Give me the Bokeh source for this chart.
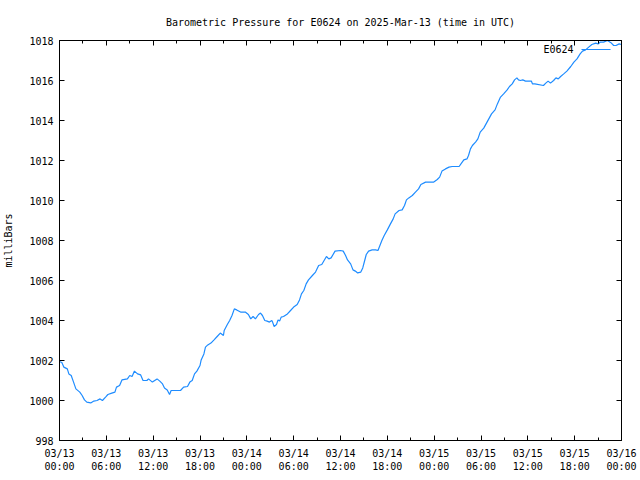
from bokeh.plotting import figure
from bokeh.models import Range1d, FixedTicker, LinearAxis, Label
from bokeh.embed import file_html
from bokeh.resources import INLINE

# hours since 2025-03-13 00:00 UTC
hours = [0.0, 0.3, 0.55, 1.0, 1.2, 1.5, 1.8, 2.1, 2.6, 2.9, 3.2, 3.5, 4.0, 4.4, 4.8, 5.2, 5.5, 5.9,
         6.2, 6.7, 7.1, 7.3, 7.7, 8.0, 8.7, 9.0, 9.3, 9.6, 10.0, 10.4, 10.7, 11.2, 11.4, 11.9,
         12.2, 12.5, 12.85, 13.2, 13.45, 13.8, 14.1, 14.3, 15.5, 15.9, 16.4, 16.7, 17.0, 17.3,
         17.6, 18.0, 18.15, 18.5, 18.7, 19.0, 19.4, 19.8, 20.2, 20.6, 21.0, 21.1, 21.5, 21.8,
         22.1, 22.4, 22.7, 23.2, 23.8, 24.2, 24.5, 24.8, 25.1, 25.5, 25.75, 26.0, 26.3, 26.6,
         26.9, 27.2, 27.3, 27.5, 27.8, 28.0, 28.2, 28.4, 28.7, 29.2, 29.6, 30.0, 30.45, 30.75,
         31.0, 31.3, 31.6, 31.9, 32.4, 32.8, 33.2, 33.6, 33.9, 34.2, 34.5, 34.8, 35.3, 36.0,
         36.35, 36.65, 36.9, 37.3, 37.6, 37.9, 38.2, 38.6, 38.85, 39.1, 39.3, 39.6, 40.05, 40.5,
         40.8, 41.0, 41.3, 41.6, 42.0, 42.4, 42.75, 43.0, 43.5, 43.9, 44.2, 44.45, 44.75, 45.2,
         45.6, 46.0, 46.3, 46.9, 47.95, 48.4, 48.7, 49.0, 49.45, 49.9, 50.3, 51.2, 51.5, 51.8,
         52.2, 52.4, 52.65, 52.9, 53.3, 53.6, 53.9, 54.35, 54.65, 55.0, 55.35, 55.8, 56.1, 56.5,
         56.9, 57.35, 57.65, 58.0, 58.3, 58.6, 58.8, 59.05, 59.35, 59.7, 60.45, 60.6, 60.9, 62.0,
         62.3, 62.6, 62.9, 63.3, 63.6, 63.9, 64.2, 64.6, 65.0, 65.5, 65.9, 66.3, 66.7, 67.0,
         67.4, 67.8, 68.2, 68.7, 69.0, 69.3, 69.7, 70.2, 70.5, 70.7, 71.0, 71.3, 71.7, 72.0]
pressure = [1001.95, 1001.9, 1001.67, 1001.58, 1001.33, 1001.25, 1000.92, 1000.58, 1000.42, 1000.25,
            1000.03, 999.92, 999.88, 999.97, 1000.0, 1000.08, 1000.0, 1000.17, 1000.3, 1000.37,
            1000.42, 1000.67, 1000.75, 1001.03, 1001.08, 1001.25, 1001.2, 1001.47, 1001.33, 1001.28,
            1001.0, 1001.0, 1001.08, 1000.92, 1001.0, 1001.08, 1000.97, 1000.83, 1000.63, 1000.53,
            1000.3, 1000.5, 1000.5, 1000.67, 1000.7, 1000.92, 1001.0, 1001.33, 1001.47, 1001.75,
            1002.03, 1002.33, 1002.67, 1002.78, 1002.87, 1003.03, 1003.2, 1003.37, 1003.25, 1003.5,
            1003.8, 1004.0, 1004.25, 1004.58, 1004.53, 1004.42, 1004.42, 1004.3, 1004.08, 1004.2,
            1004.08, 1004.3, 1004.37, 1004.25, 1004.0, 1003.97, 1003.92, 1004.0, 1003.92, 1003.7,
            1003.8, 1004.03, 1003.97, 1004.17, 1004.2, 1004.33, 1004.5, 1004.67, 1004.8, 1005.03,
            1005.33, 1005.5, 1005.83, 1006.03, 1006.25, 1006.42, 1006.75, 1006.8, 1007.0, 1007.2,
            1007.08, 1007.13, 1007.47, 1007.5, 1007.47, 1007.25, 1007.03, 1006.83, 1006.53, 1006.47,
            1006.38, 1006.42, 1006.63, 1007.0, 1007.3, 1007.47, 1007.53, 1007.53, 1007.5, 1007.7,
            1008.0, 1008.25, 1008.53, 1008.83, 1009.08, 1009.33, 1009.5, 1009.53, 1009.75, 1010.03,
            1010.13, 1010.25, 1010.42, 1010.58, 1010.8, 1010.92, 1010.92, 1011.05, 1011.17, 1011.47,
            1011.58, 1011.67, 1011.7, 1011.7, 1011.87, 1012.03, 1012.08, 1012.25, 1012.58, 1012.75,
            1012.92, 1013.08, 1013.42, 1013.62, 1013.83, 1014.08, 1014.33, 1014.53, 1014.83, 1015.17,
            1015.33, 1015.53, 1015.7, 1015.83, 1016.03, 1016.13, 1016.03, 1016.0, 1016.03, 1015.97,
            1015.97, 1015.83, 1015.83, 1015.75, 1015.87, 1015.97, 1015.87, 1016.0, 1016.13, 1016.08,
            1016.2, 1016.33, 1016.47, 1016.7, 1016.92, 1017.08, 1017.33, 1017.47, 1017.53, 1017.67,
            1017.8, 1017.87, 1017.83, 1017.92, 1017.92, 1018.0, 1017.92, 1017.87, 1017.75, 1017.75,
            1017.83, 1017.8]

x_ticks = list(range(0, 73, 6))
x_minor_ticks = list(range(3, 72, 6))
x_tick_labels = ["03/13\n00:00", "03/13\n06:00", "03/13\n12:00", "03/13\n18:00",
                 "03/14\n00:00", "03/14\n06:00", "03/14\n12:00", "03/14\n18:00",
                 "03/15\n00:00", "03/15\n06:00", "03/15\n12:00", "03/15\n18:00",
                 "03/16\n00:00"]
y_ticks = list(range(998, 1019, 2))
station = "E0624"
title_text = "Barometric Pressure for E0624 on 2025-Mar-13 (time in UTC)"
y_label = "milliBars"

FONT = "DejaVu Sans Mono"
FS = "10px"
COLOR = "#1e8cff"

p = figure(width=640, height=480, output_backend="svg", toolbar_location=None,
           x_range=Range1d(0, 72), y_range=Range1d(998, 1018),
           min_border_left=59, min_border_right=19, min_border_top=40, min_border_bottom=40)
p.title.text = title_text
p.title.text_font = FONT
p.title.text_font_size = FS
p.title.text_font_style = "normal"
p.title.text_color = "black"
p.title.align = "center"
p.title.standoff = 26
p.xgrid.visible = False
p.ygrid.visible = False
p.outline_line_color = "black"
p.outline_line_alpha = 1.0
p.background_fill_color = "white"
p.border_fill_color = "white"

def style_axis(ax, ticks, minor, labels):
    ax.ticker = FixedTicker(ticks=ticks, minor_ticks=minor)
    ax.major_tick_in = 5
    ax.major_tick_out = 0
    ax.minor_tick_in = 3
    ax.minor_tick_out = 0
    ax.axis_line_color = "black"
    ax.major_tick_line_color = "black"
    ax.minor_tick_line_color = "black"
    ax.major_label_text_font = FONT
    ax.major_label_text_font_size = FS
    ax.major_label_text_color = "black"
    ax.major_label_overrides = labels

xlab = {t: l for t, l in zip(x_ticks, x_tick_labels)}
style_axis(p.xaxis[0], x_ticks, x_minor_ticks, xlab)
p.xaxis[0].major_label_standoff = 7
style_axis(p.yaxis[0], y_ticks, [], {t: str(t) for t in y_ticks})
p.yaxis[0].major_label_standoff = 6
p.yaxis[0].axis_label = y_label
p.yaxis[0].axis_label_text_font = FONT
p.yaxis[0].axis_label_text_font_size = FS
p.yaxis[0].axis_label_text_font_style = "normal"
p.yaxis[0].axis_label_text_color = "black"
p.yaxis[0].axis_label_standoff = 12

top = LinearAxis()
style_axis(top, x_ticks, x_minor_ticks, {t: "" for t in x_ticks})
top.major_label_standoff = 0
p.add_layout(top, "above")
right = LinearAxis()
style_axis(right, y_ticks, [], {t: "" for t in y_ticks})
right.major_label_standoff = 0
p.add_layout(right, "right")

p.line(hours, pressure, line_color=COLOR, line_width=1.2)

# gnuplot-style key at top right: text then line sample
xr = 72.0
key_y = 1018 - 0.0225 * 20
p.add_layout(Label(x=xr * 0.9146, y=key_y, text=station, text_align="right",
                   text_baseline="middle", text_font=FONT, text_font_size=FS, text_color="black"))
p.line([xr * 0.9288, xr * 0.9805], [key_y, key_y], line_color=COLOR, line_width=1.2)

open("out.html", "w").write(file_html(p, INLINE))
